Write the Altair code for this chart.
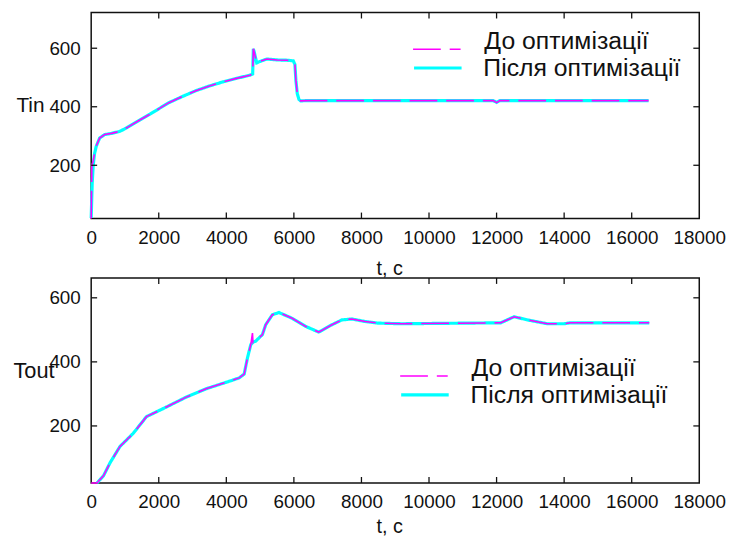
import altair as alt
import pandas as pd

# ---------------- data ----------------
SERIES = ["До оптимізації", "Після оптимізації"]
COLORS = ["#ff00ff", "#00ffff"]
DASHES = [[28, 9], [1, 0]]
WIDTHS = [1.6, 3.2]

X_TICKS = [0, 2000, 4000, 6000, 8000, 10000, 12000, 14000, 16000, 18000]
Y_TICKS = [200, 400, 600]

# Tin, after optimisation (cyan)
tin_t_after = [0, 30, 60, 100, 150, 250, 400, 600, 850, 1050, 1400, 1700, 2000, 2300,
               2700, 3100, 3500, 3900, 4300, 4700, 4780, 4800, 4830, 4900, 5000, 5200,
               5500, 5800, 5980, 6030, 6060, 6100, 6150, 6200, 6400, 8000, 10000,
               11900, 12000, 12100, 14000, 16500]
tin_after = [20, 140, 200, 240, 265, 293, 305, 309, 316, 328, 352, 372, 393, 414,
             435, 455, 471, 485, 497, 508, 512, 598, 585, 550, 555, 563,
             560, 559, 557, 545, 490, 445, 425, 420, 421, 421, 421,
             421, 415, 421, 421, 421]
# Tin, before optimisation (magenta dashed)
tin_t_before = [0, 20, 60, 100, 150, 250, 400, 600, 850, 1050, 1400, 1700, 2000, 2300,
                2700, 3100, 3500, 3900, 4300, 4700, 4780, 4800, 4830, 4900, 5000, 5200,
                5500, 5800, 5980, 6030, 6060, 6100, 6150, 6200, 6400, 8000, 10000,
                11900, 12000, 12100, 14000, 16500]
tin_before = [18, 200, 215, 242, 266, 293, 305, 309, 316, 328, 352, 372, 393, 414,
              435, 455, 471, 485, 497, 508, 512, 598, 585, 550, 555, 563,
              560, 559, 557, 545, 490, 445, 425, 420, 421, 421, 421,
              421, 414, 421, 421, 421]

# Tout, after optimisation (cyan)
tout_t_after = [170, 363, 559, 853, 1245, 1637, 2225, 2814, 3402, 3990, 4382, 4529,
                4627, 4725, 4800, 4872, 5068, 5166, 5362, 5559, 5950, 6343, 6735,
                7127, 7421, 7715, 8108, 8500, 9185, 12126, 12520, 12911, 13500,
                13990, 14186, 16520]
tout_after = [22, 44, 85, 136, 177, 229, 259, 290, 316, 336, 350, 362,
              413, 454, 462, 465, 485, 516, 547, 554, 536, 511, 493,
              516, 531, 534, 526, 521, 519, 522, 541, 531, 519,
              519, 522, 522]
# Tout, before optimisation (magenta dashed)
tout_t_before = [0, 170, 363, 559, 853, 1245, 1637, 2225, 2814, 3402, 3990, 4382, 4529,
                 4627, 4725, 4774, 4790, 4872, 5068, 5166, 5362, 5559, 5950, 6343, 6735,
                 7127, 7421, 7715, 8108, 8500, 9185, 12126, 12520, 12911, 13500,
                 13990, 14186, 16520]
tout_before = [22, 22, 44, 85, 136, 177, 229, 259, 290, 316, 336, 350, 362,
               413, 454, 490, 460, 465, 485, 516, 547, 554, 536, 511, 493,
               516, 531, 534, 526, 521, 519, 522, 541, 531, 519,
               519, 522, 522]


def frame(t_before, v_before, t_after, v_after):
    a = pd.DataFrame({"t": t_after, "v": v_after, "s": SERIES[1]})
    b = pd.DataFrame({"t": t_before, "v": v_before, "s": SERIES[0]})
    df = pd.concat([a, b], ignore_index=True)
    df["d"] = df["s"]
    df["w"] = df["s"]
    return df


FONT = "Liberation Sans"
W = 614


def legend(values, lx, ly, **kw):
    return alt.Legend(values=values, orient="none", legendX=lx, legendY=ly, title=None,
                      labelFont=FONT, labelFontSize=25, labelColor="#111",
                      labelLimit=400, symbolType="stroke", symbolSize=2304,
                      padding=0, **kw)


def panel(df, ydom, H, ytitle, ytitle_x, ytitle_size, lx, ly, xtitle_y):
    xs = alt.Scale(domain=[0, 18000], nice=False, zero=False)
    ys = alt.Scale(domain=ydom, nice=False, zero=False)
    xaxis = alt.Axis(values=X_TICKS, format="d", ticks=False, tickSize=0, domain=False,
                     grid=False, labelFont=FONT, labelFontSize=19, labelColor="#111",
                     labelPadding=10, labelFlush=False, labelOverlap=False,
                     title="t, c", titleFont=FONT, titleFontSize=20,
                     titleFontWeight="normal", titleColor="#111",
                     titleX=301, titleY=xtitle_y, titleAlign="center",
                     titleBaseline="alphabetic")
    yaxis = alt.Axis(values=Y_TICKS, format="d", ticks=False, tickSize=0, domain=False,
                     grid=False, labelFont=FONT, labelFontSize=19, labelColor="#111",
                     labelPadding=11, labelOverlap=False,
                     title=ytitle, titleFont=FONT, titleFontSize=ytitle_size,
                     titleFontWeight="normal", titleColor="#111", titleAngle=0,
                     titleAlign="left", titleBaseline="middle",
                     titleX=ytitle_x, titleY=94)
    enc = dict(
        x=alt.X("t:Q", scale=xs, axis=xaxis),
        y=alt.Y("v:Q", scale=ys, axis=yaxis),
        # legend entry 1 (magenta dashed)
        color=alt.Color("s:N", scale=alt.Scale(domain=SERIES, range=COLORS),
                        legend=legend([SERIES[0]], lx, ly, symbolDash=DASHES[0],
                                      symbolStrokeWidth=WIDTHS[0],
                                      labelBaseline="alphabetic", labelOffset=23)),
        # legend entry 2 (cyan solid); reversed domain keeps the legends separate
        strokeDash=alt.StrokeDash("d:N", scale=alt.Scale(domain=SERIES[::-1],
                                                         range=DASHES[::-1]),
                                  legend=legend([SERIES[1]], lx, ly + 18,
                                                symbolStrokeColor=COLORS[1],
                                                symbolStrokeWidth=WIDTHS[1],
                                                labelOffset=20)),
        strokeWidth=alt.StrokeWidth("w:N", scale=alt.Scale(domain=SERIES, range=WIDTHS),
                                    legend=None),
    )
    base = alt.Chart(df)
    after = base.transform_filter(alt.datum.s == SERIES[1]).mark_line().encode(**enc)
    before = base.transform_filter(alt.datum.s == SERIES[0]).mark_line().encode(**enc)

    xt = alt.Chart(pd.DataFrame({"t": X_TICKS[1:-1]}))
    yt = alt.Chart(pd.DataFrame({"v": Y_TICKS}))
    tick_style = dict(color="#111", strokeWidth=1.3)
    xb = xt.mark_rule(**tick_style).encode(x=alt.X("t:Q", scale=xs, axis=xaxis),
                                           y=alt.value(H), y2=alt.value(H - 6))
    xtop = xt.mark_rule(**tick_style).encode(x=alt.X("t:Q", scale=xs, axis=xaxis),
                                             y=alt.value(0), y2=alt.value(6))
    yl = yt.mark_rule(**tick_style).encode(y=alt.Y("v:Q", scale=ys, axis=yaxis),
                                           x=alt.value(0), x2=alt.value(6))
    yr = yt.mark_rule(**tick_style).encode(y=alt.Y("v:Q", scale=ys, axis=yaxis),
                                           x=alt.value(W), x2=alt.value(W - 6))
    return alt.layer(after, before, xb, xtop, yl, yr).properties(width=W, height=H)


top = panel(frame(tin_t_before, tin_before, tin_t_after, tin_after),
            [18, 722], 208, "Tin", -76, 21, 324, 12, 57)
bottom = panel(frame(tout_t_before, tout_before, tout_t_after, tout_after),
               [22, 662], 207, "Tout", -79, 22, 311, 74, 50)

chart = alt.vconcat(top, bottom, spacing=60, bounds="flush").resolve_scale(
    color="independent", strokeDash="independent", strokeWidth="independent"
).resolve_legend(
    color="independent", strokeDash="independent", strokeWidth="independent"
).properties(
    padding={"left": 4, "top": 0, "right": 0, "bottom": -2},
    background="white"
).configure_view(stroke="#111", strokeWidth=1.5)

chart.save("out.html", embed_options={"renderer": "svg", "actions": False})
